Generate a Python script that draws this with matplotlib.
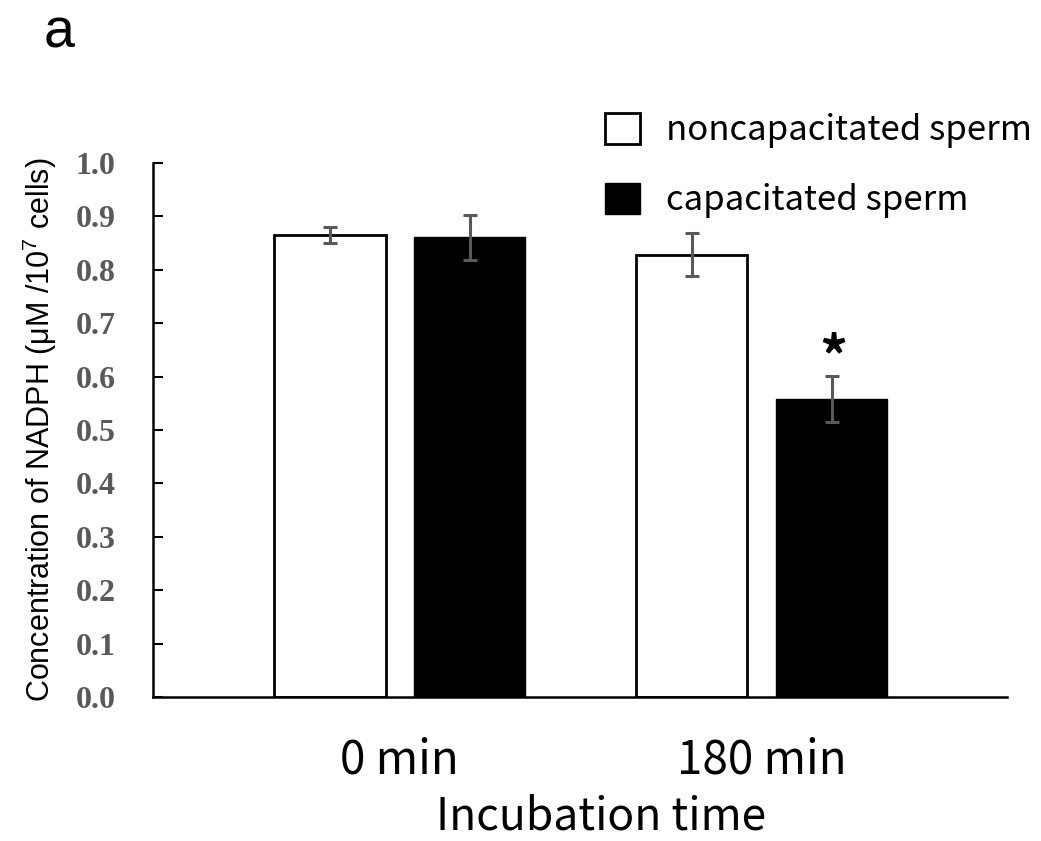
import matplotlib.pyplot as plt
import numpy as np

groups = ["0 min", "180 min"]
series = ["noncapacitated sperm", "capacitated sperm"]
noncap_mean = [0.865, 0.828]
noncap_err = [0.015, 0.040]
cap_mean = [0.861, 0.558]
cap_err = [0.042, 0.043]
yticks = [0.0, 0.1, 0.2, 0.3, 0.4, 0.5, 0.6, 0.7, 0.8, 0.9, 1.0]

SANS = ["Noto Sans CJK JP", "DejaVu Sans"]
GRAY = "#595959"

fig = plt.figure(figsize=(10.41, 8.41), dpi=100)
ax = fig.add_axes([0.147, 0.1712, 0.820, 0.635])

x = np.arange(len(groups))
w = 0.307
off = 0.193
b1 = ax.bar(x - off, noncap_mean, w, color="white", edgecolor="black", lw=2,
            label=series[0], zorder=2)
b2 = ax.bar(x + off, cap_mean, w, color="black", edgecolor="black", lw=1,
            label=series[1], zorder=2)
ekw = dict(fmt="none", ecolor=GRAY, elinewidth=2.2, capsize=4.8,
           capthick=2.2, zorder=3)
ax.errorbar(x - off, noncap_mean, yerr=noncap_err, **ekw)
ax.errorbar(x + off, cap_mean, yerr=cap_err, **ekw)

# significance marker over capacitated sperm at 180 min
ax.text(x[1] + off + 0.005, cap_mean[1] + cap_err[1] - 0.022, "*",
        ha="center", va="bottom", fontsize=40, fontweight="bold", family=SANS)

ax.set_xlim(-0.682, 1.677)
ax.set_ylim(0, 1.0)
ax.set_yticks(yticks)
ax.set_yticklabels([f"{v:.1f}" for v in yticks], family="Liberation Serif",
                   fontweight="bold", fontsize=23, color=GRAY)
ax.set_xticks(x)
ax.set_xticklabels(groups, family=SANS, fontsize=33)
ax.tick_params(axis="y", direction="in", length=7, width=1.5, pad=27)
ax.tick_params(axis="x", length=0, pad=28)
for s in ["top", "right"]:
    ax.spines[s].set_visible(False)
for s in ["left", "bottom"]:
    ax.spines[s].set_linewidth(1.8)

ax.set_xlabel("Incubation time", family=SANS, fontsize=32)
ax.xaxis.set_label_coords(0.525, -0.248)
ax.xaxis.label.set_va("baseline")
ax.set_ylabel(r"Concentration of NADPH ($\mathregular{\mu}$M /10$^{\mathregular{7}}$ cells)",
              family="Liberation Sans", fontsize=22, labelpad=12)

fig.legend(handles=[b1, b2], labels=series, loc="upper left",
           bbox_to_anchor=(0.581, 0.866), frameon=False,
           prop={"family": SANS, "size": 25}, handlelength=1.0,
           handleheight=1.0, handletextpad=0.75, labelspacing=1.0,
           borderaxespad=0, borderpad=0)

fig.text(0.042, 0.944, "a", family="Liberation Sans", fontsize=40)

fig.savefig("out.png", dpi=100)
